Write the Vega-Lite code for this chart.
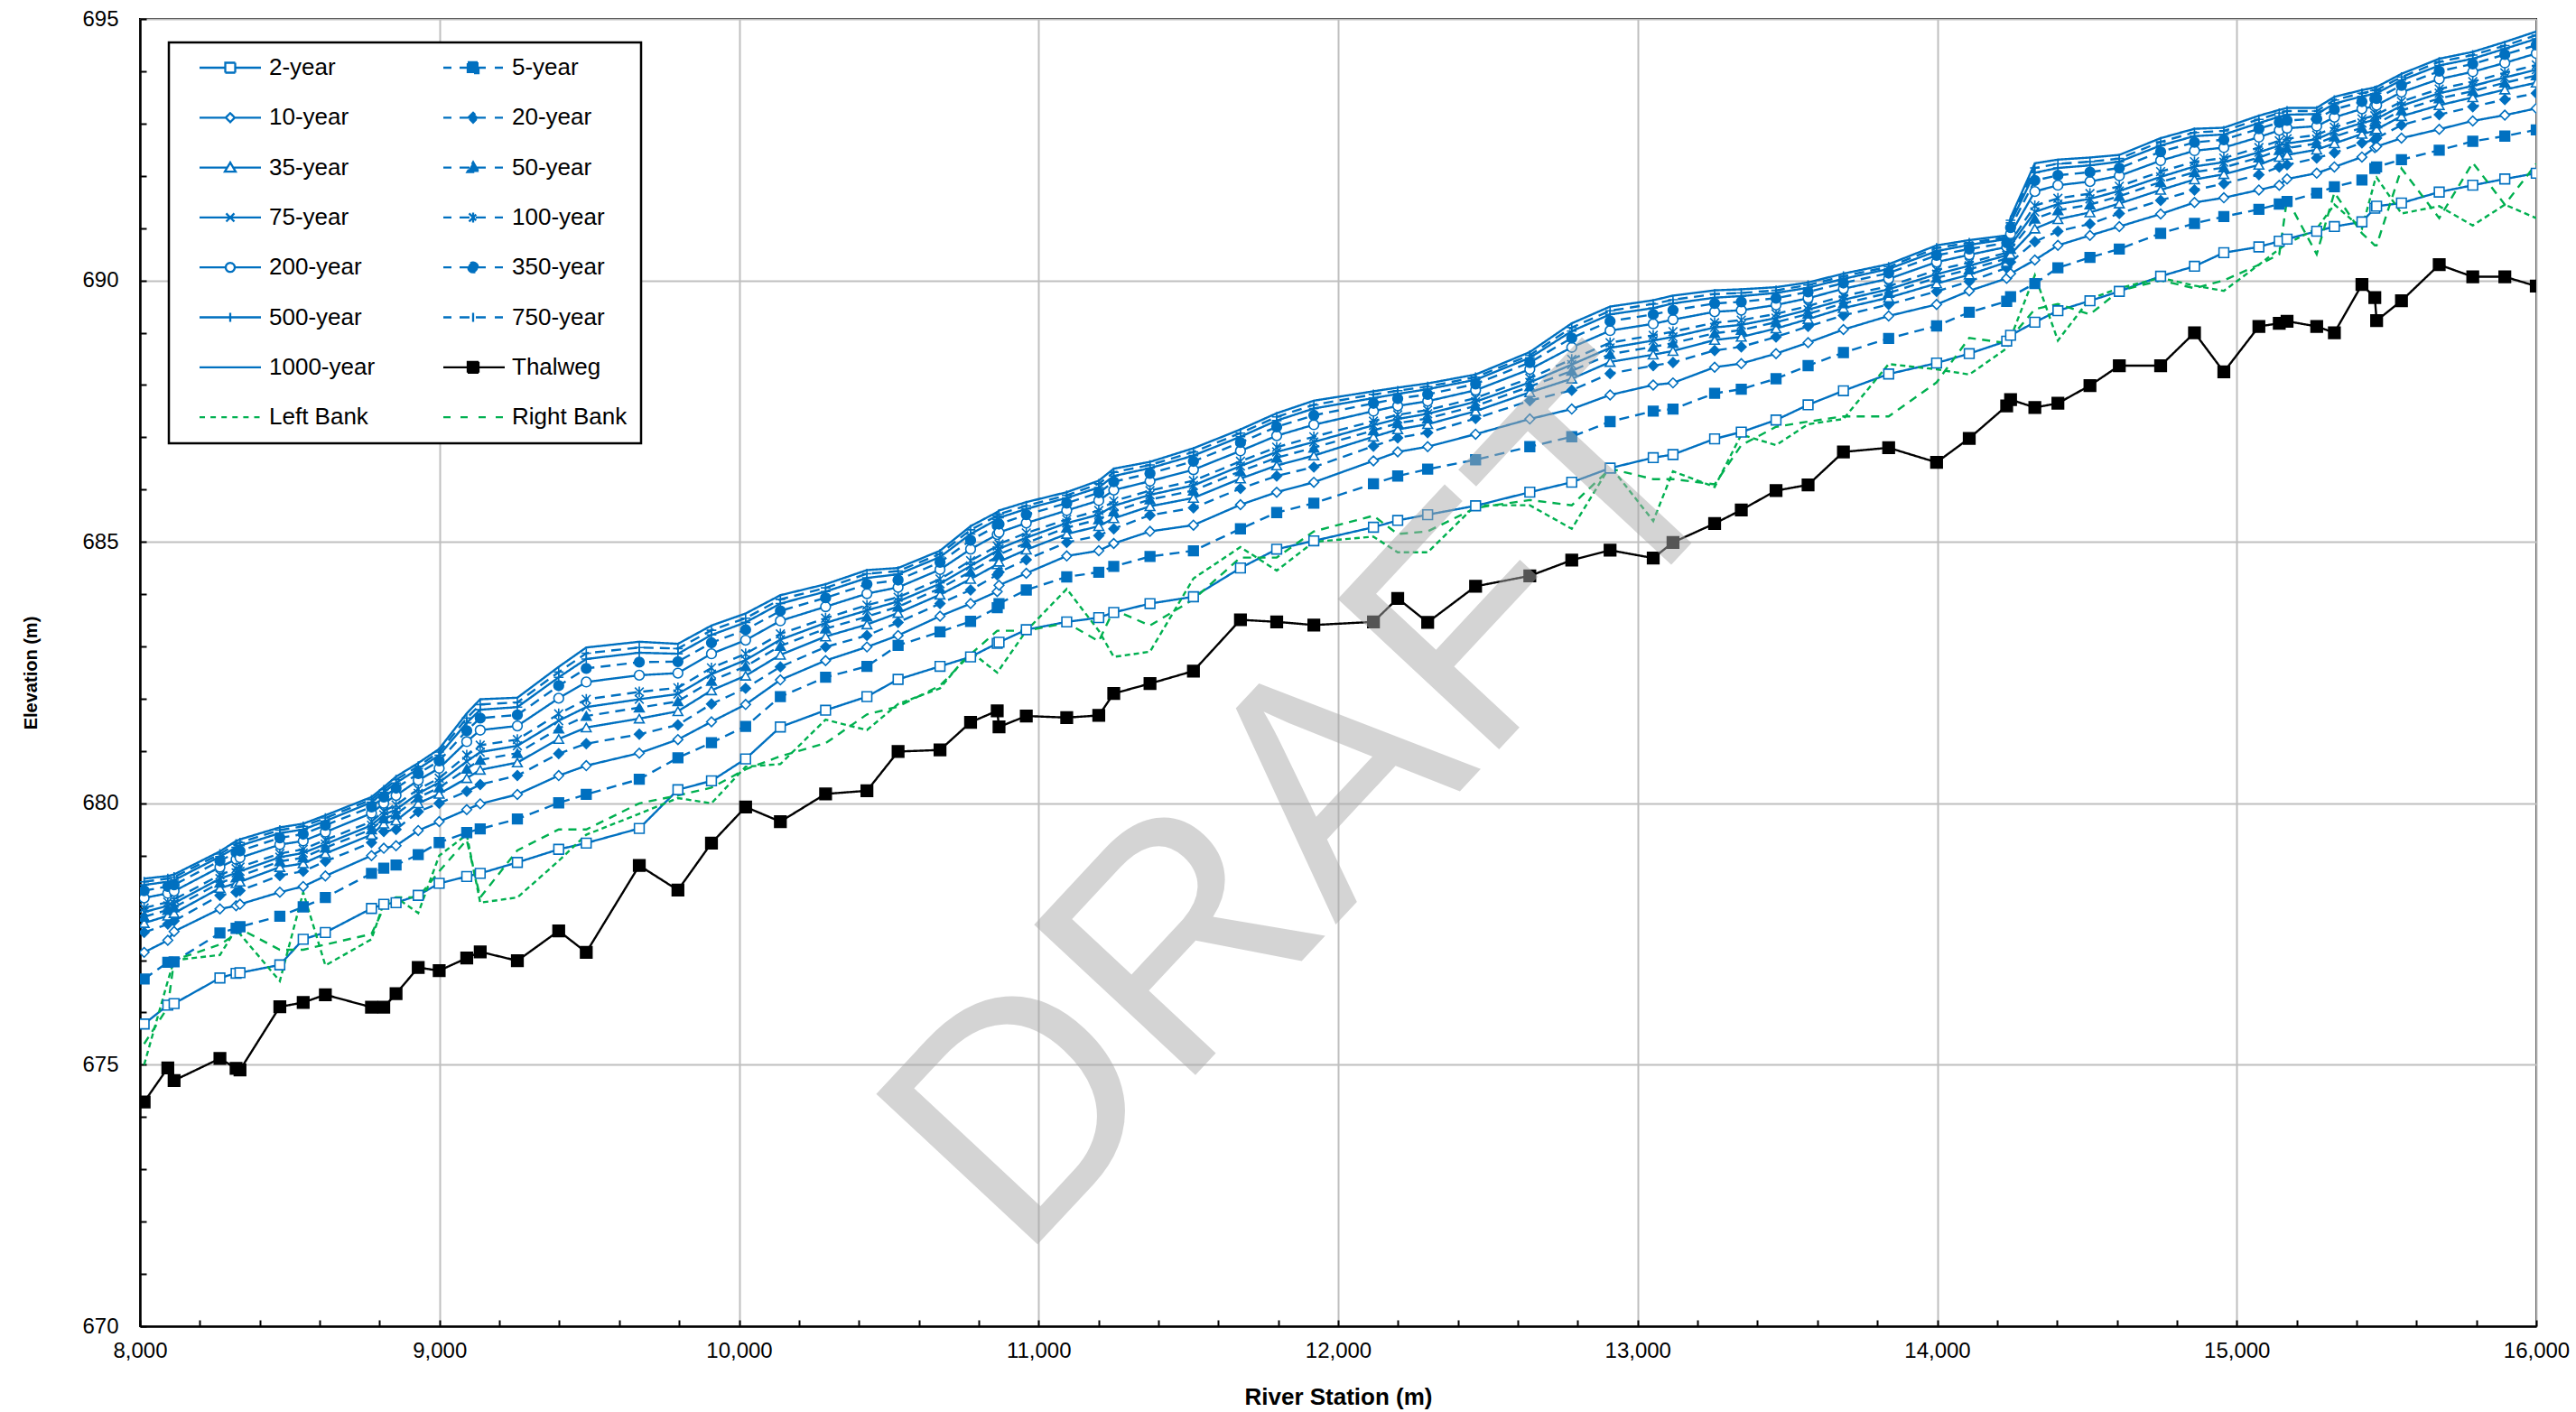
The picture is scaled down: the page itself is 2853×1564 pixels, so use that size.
{
  "$schema": "https://vega.github.io/schema/vega-lite/v6.json",
  "width": 2654,
  "height": 1448,
  "autosize": {"type": "none"},
  "padding": {"left": 155, "top": 21, "right": 44, "bottom": 95},
  "background": "white",
  "config": {
    "view": {"stroke": "black", "strokeWidth": 2},
    "axis": {
      "labelFont": "Liberation Sans", "titleFont": "Liberation Sans",
      "labelColor": "black", "titleColor": "black",
      "labelFontSize": 24, "titleFontSize": 26, "titleFontWeight": "bold",
      "domainColor": "black", "domainWidth": 2.5,
      "tickColor": "black", "tickWidth": 2, "tickSize": -7,
      "gridColor": "#BFBFBF", "gridWidth": 2,
      "labelFlush": false, "labelOverlap": false
    }
  },
  "layer": [
    {
      "data": {"values": [
        {"s":8014,"Thalweg":674.29,"2-year":675.78,"5-year":676.64,"10-year":677.15,"20-year":677.53,"35-year":677.71,"50-year":677.83,"75-year":677.92,"100-year":678.00,"200-year":678.19,"350-year":678.33,"500-year":678.44,"750-year":678.50,"1000-year":678.56,"Left Bank":675.0,"Right Bank":675.4},
        {"s":8093,"Thalweg":674.94,"2-year":676.14,"5-year":676.96,"10-year":677.38,"20-year":677.69,"35-year":677.85,"50-year":677.96,"75-year":678.04,"100-year":678.11,"200-year":678.28,"350-year":678.41,"500-year":678.50,"750-year":678.56,"1000-year":678.61,"Left Bank":676.6,"Right Bank":676.1},
        {"s":8114,"Thalweg":674.70,"2-year":676.17,"5-year":676.97,"10-year":677.55,"20-year":677.75,"35-year":677.90,"50-year":678.01,"75-year":678.09,"100-year":678.16,"200-year":678.32,"350-year":678.44,"500-year":678.53,"750-year":678.59,"1000-year":678.64,"Left Bank":677.0,"Right Bank":677.0},
        {"s":8267,"Thalweg":675.12,"2-year":676.66,"5-year":677.52,"10-year":677.98,"20-year":678.24,"35-year":678.38,"50-year":678.48,"75-year":678.56,"100-year":678.63,"200-year":678.78,"350-year":678.90,"500-year":678.98,"750-year":679.03,"1000-year":679.08,"Left Bank":677.1,"Right Bank":677.3},
        {"s":8321,"Thalweg":674.93,"2-year":676.75,"5-year":677.61,"10-year":678.04,"20-year":678.30,"35-year":678.47,"50-year":678.58,"75-year":678.67,"100-year":678.75,"200-year":678.93,"350-year":679.06,"500-year":679.16,"750-year":679.22,"1000-year":679.28,"Left Bank":677.6,"Right Bank":677.5},
        {"s":8334,"Thalweg":674.90,"2-year":676.76,"5-year":677.64,"10-year":678.07,"20-year":678.33,"35-year":678.50,"50-year":678.61,"75-year":678.70,"100-year":678.78,"200-year":678.96,"350-year":679.09,"500-year":679.19,"750-year":679.25,"1000-year":679.31,"Left Bank":677.5,"Right Bank":677.6},
        {"s":8467,"Thalweg":676.11,"2-year":676.91,"5-year":677.84,"10-year":678.30,"20-year":678.62,"35-year":678.78,"50-year":678.89,"75-year":678.97,"100-year":679.04,"200-year":679.21,"350-year":679.34,"500-year":679.43,"750-year":679.49,"1000-year":679.54,"Left Bank":676.6,"Right Bank":677.2},
        {"s":8545,"Thalweg":676.19,"2-year":677.40,"5-year":678.02,"10-year":678.41,"20-year":678.70,"35-year":678.85,"50-year":678.96,"75-year":679.05,"100-year":679.12,"200-year":679.28,"350-year":679.41,"500-year":679.50,"750-year":679.56,"1000-year":679.61,"Left Bank":678.3,"Right Bank":677.2},
        {"s":8619,"Thalweg":676.34,"2-year":677.53,"5-year":678.20,"10-year":678.61,"20-year":678.89,"35-year":679.04,"50-year":679.15,"75-year":679.22,"100-year":679.30,"200-year":679.45,"350-year":679.58,"500-year":679.66,"750-year":679.72,"1000-year":679.77,"Left Bank":676.9,"Right Bank":677.3},
        {"s":8773,"Thalweg":676.10,"2-year":677.99,"5-year":678.66,"10-year":679.00,"20-year":679.25,"35-year":679.40,"50-year":679.50,"75-year":679.58,"100-year":679.65,"200-year":679.81,"350-year":679.93,"500-year":680.02,"750-year":680.07,"1000-year":680.12,"Left Bank":677.4,"Right Bank":677.5},
        {"s":8814,"Thalweg":676.10,"2-year":678.07,"5-year":678.76,"10-year":679.14,"20-year":679.46,"35-year":679.61,"50-year":679.71,"75-year":679.78,"100-year":679.85,"200-year":680.00,"350-year":680.12,"500-year":680.21,"750-year":680.26,"1000-year":680.31,"Left Bank":678.1,"Right Bank":678.0},
        {"s":8855,"Thalweg":676.36,"2-year":678.10,"5-year":678.82,"10-year":679.19,"20-year":679.50,"35-year":679.67,"50-year":679.79,"75-year":679.88,"100-year":679.97,"200-year":680.15,"350-year":680.29,"500-year":680.39,"750-year":680.45,"1000-year":680.51,"Left Bank":678.2,"Right Bank":678.2},
        {"s":8929,"Thalweg":676.86,"2-year":678.24,"5-year":679.02,"10-year":679.48,"20-year":679.84,"35-year":680.00,"50-year":680.11,"75-year":680.19,"100-year":680.27,"200-year":680.44,"350-year":680.57,"500-year":680.66,"750-year":680.71,"1000-year":680.77,"Left Bank":677.9,"Right Bank":678.2},
        {"s":8999,"Thalweg":676.80,"2-year":678.47,"5-year":679.25,"10-year":679.65,"20-year":680.00,"35-year":680.18,"50-year":680.30,"75-year":680.40,"100-year":680.48,"200-year":680.67,"350-year":680.81,"500-year":680.92,"750-year":680.98,"1000-year":681.04,"Left Bank":679.0,"Right Bank":678.7},
        {"s":9091,"Thalweg":677.04,"2-year":678.60,"5-year":679.44,"10-year":679.88,"20-year":680.23,"35-year":680.48,"50-year":680.66,"75-year":680.80,"100-year":680.92,"200-year":681.18,"350-year":681.39,"500-year":681.54,"750-year":681.63,"1000-year":681.72,"Left Bank":679.4,"Right Bank":679.3},
        {"s":9136,"Thalweg":677.16,"2-year":678.66,"5-year":679.51,"10-year":679.99,"20-year":680.36,"35-year":680.64,"50-year":680.83,"75-year":680.98,"100-year":681.11,"200-year":681.40,"350-year":681.63,"500-year":681.79,"750-year":681.89,"1000-year":681.99,"Left Bank":678.1,"Right Bank":678.2},
        {"s":9260,"Thalweg":676.99,"2-year":678.87,"5-year":679.70,"10-year":680.17,"20-year":680.53,"35-year":680.78,"50-year":680.96,"75-year":681.10,"100-year":681.22,"200-year":681.48,"350-year":681.69,"500-year":681.84,"750-year":681.93,"1000-year":682.02,"Left Bank":678.2,"Right Bank":679.1},
        {"s":9398,"Thalweg":677.56,"2-year":679.12,"5-year":680.01,"10-year":680.53,"20-year":680.95,"35-year":681.23,"50-year":681.43,"75-year":681.58,"100-year":681.71,"200-year":682.01,"350-year":682.25,"500-year":682.41,"750-year":682.51,"1000-year":682.61,"Left Bank":678.9,"Right Bank":679.5},
        {"s":9490,"Thalweg":677.15,"2-year":679.24,"5-year":680.17,"10-year":680.72,"20-year":681.14,"35-year":681.45,"50-year":681.67,"75-year":681.84,"100-year":681.99,"200-year":682.32,"350-year":682.58,"500-year":682.76,"750-year":682.87,"1000-year":682.98,"Left Bank":679.4,"Right Bank":679.5},
        {"s":9667,"Thalweg":678.81,"2-year":679.52,"5-year":680.46,"10-year":680.96,"20-year":681.32,"35-year":681.62,"50-year":681.83,"75-year":681.99,"100-year":682.13,"200-year":682.45,"350-year":682.70,"500-year":682.88,"750-year":682.98,"1000-year":683.09,"Left Bank":679.8,"Right Bank":680.0},
        {"s":9796,"Thalweg":678.34,"2-year":680.26,"5-year":680.87,"10-year":681.22,"20-year":681.50,"35-year":681.76,"50-year":681.95,"75-year":682.09,"100-year":682.21,"200-year":682.49,"350-year":682.71,"500-year":682.86,"750-year":682.96,"1000-year":683.05,"Left Bank":680.1,"Right Bank":680.15},
        {"s":9908,"Thalweg":679.24,"2-year":680.43,"5-year":681.16,"10-year":681.56,"20-year":681.90,"35-year":682.16,"50-year":682.34,"75-year":682.47,"100-year":682.59,"200-year":682.86,"350-year":683.07,"500-year":683.22,"750-year":683.31,"1000-year":683.40,"Left Bank":680.0,"Right Bank":680.3},
        {"s":10022,"Thalweg":679.93,"2-year":680.85,"5-year":681.47,"10-year":681.89,"20-year":682.20,"35-year":682.44,"50-year":682.62,"75-year":682.74,"100-year":682.86,"200-year":683.12,"350-year":683.32,"500-year":683.46,"750-year":683.54,"1000-year":683.63,"Left Bank":680.7,"Right Bank":680.65},
        {"s":10138,"Thalweg":679.65,"2-year":681.46,"5-year":682.04,"10-year":682.36,"20-year":682.61,"35-year":682.84,"50-year":683.01,"75-year":683.13,"100-year":683.24,"200-year":683.49,"350-year":683.68,"500-year":683.82,"750-year":683.90,"1000-year":683.98,"Left Bank":680.75,"Right Bank":680.9},
        {"s":10289,"Thalweg":680.18,"2-year":681.78,"5-year":682.41,"10-year":682.73,"20-year":682.99,"35-year":683.19,"50-year":683.34,"75-year":683.45,"100-year":683.54,"200-year":683.76,"350-year":683.93,"500-year":684.05,"750-year":684.12,"1000-year":684.19,"Left Bank":681.6,"Right Bank":681.15},
        {"s":10427,"Thalweg":680.24,"2-year":682.04,"5-year":682.62,"10-year":682.99,"20-year":683.21,"35-year":683.42,"50-year":683.57,"75-year":683.69,"100-year":683.79,"200-year":684.01,"350-year":684.19,"500-year":684.31,"750-year":684.39,"1000-year":684.46,"Left Bank":681.4,"Right Bank":681.7},
        {"s":10531,"Thalweg":680.99,"2-year":682.37,"5-year":683.02,"10-year":683.21,"20-year":683.46,"35-year":683.64,"50-year":683.76,"75-year":683.86,"100-year":683.94,"200-year":684.13,"350-year":684.27,"500-year":684.38,"750-year":684.44,"1000-year":684.50,"Left Bank":681.9,"Right Bank":681.85},
        {"s":10671,"Thalweg":681.02,"2-year":682.62,"5-year":683.28,"10-year":683.58,"20-year":683.82,"35-year":683.99,"50-year":684.11,"75-year":684.20,"100-year":684.29,"200-year":684.47,"350-year":684.61,"500-year":684.71,"750-year":684.77,"1000-year":684.83,"Left Bank":682.2,"Right Bank":682.25},
        {"s":10773,"Thalweg":681.55,"2-year":682.80,"5-year":683.48,"10-year":683.82,"20-year":684.08,"35-year":684.29,"50-year":684.43,"75-year":684.54,"100-year":684.64,"200-year":684.86,"350-year":685.03,"500-year":685.15,"750-year":685.23,"1000-year":685.30,"Left Bank":682.9,"Right Bank":682.85},
        {"s":10862,"Thalweg":681.77,"2-year":683.06,"5-year":683.74,"10-year":684.05,"20-year":684.37,"35-year":684.57,"50-year":684.72,"75-year":684.83,"100-year":684.92,"200-year":685.14,"350-year":685.31,"500-year":685.43,"750-year":685.50,"1000-year":685.57,"Left Bank":682.5,"Right Bank":683.3},
        {"s":10868,"Thalweg":681.46,"2-year":683.08,"5-year":683.82,"10-year":684.17,"20-year":684.42,"35-year":684.62,"50-year":684.76,"75-year":684.87,"100-year":684.96,"200-year":685.18,"350-year":685.34,"500-year":685.46,"750-year":685.53,"1000-year":685.60,"Left Bank":682.55,"Right Bank":683.3},
        {"s":10959,"Thalweg":681.67,"2-year":683.32,"5-year":684.08,"10-year":684.40,"20-year":684.66,"35-year":684.85,"50-year":684.98,"75-year":685.08,"100-year":685.17,"200-year":685.36,"350-year":685.52,"500-year":685.63,"750-year":685.69,"1000-year":685.76,"Left Bank":683.3,"Right Bank":683.3},
        {"s":11094,"Thalweg":681.64,"2-year":683.47,"5-year":684.33,"10-year":684.73,"20-year":684.99,"35-year":685.15,"50-year":685.27,"75-year":685.36,"100-year":685.43,"200-year":685.60,"350-year":685.74,"500-year":685.84,"750-year":685.89,"1000-year":685.95,"Left Bank":684.1,"Right Bank":683.45},
        {"s":11201,"Thalweg":681.68,"2-year":683.55,"5-year":684.42,"10-year":684.83,"20-year":685.12,"35-year":685.30,"50-year":685.43,"75-year":685.52,"100-year":685.60,"200-year":685.79,"350-year":685.94,"500-year":686.04,"750-year":686.11,"1000-year":686.17,"Left Bank":683.3,"Right Bank":683.1},
        {"s":11251,"Thalweg":682.10,"2-year":683.65,"5-year":684.53,"10-year":684.97,"20-year":685.25,"35-year":685.45,"50-year":685.58,"75-year":685.69,"100-year":685.78,"200-year":685.99,"350-year":686.15,"500-year":686.26,"750-year":686.33,"1000-year":686.40,"Left Bank":682.8,"Right Bank":683.7},
        {"s":11372,"Thalweg":682.29,"2-year":683.82,"5-year":684.72,"10-year":685.20,"20-year":685.51,"35-year":685.68,"50-year":685.81,"75-year":685.90,"100-year":685.98,"200-year":686.16,"350-year":686.31,"500-year":686.41,"750-year":686.47,"1000-year":686.53,"Left Bank":682.9,"Right Bank":683.4},
        {"s":11517,"Thalweg":682.53,"2-year":683.95,"5-year":684.83,"10-year":685.32,"20-year":685.65,"35-year":685.84,"50-year":685.98,"75-year":686.08,"100-year":686.17,"200-year":686.38,"350-year":686.54,"500-year":686.65,"750-year":686.72,"1000-year":686.79,"Left Bank":684.3,"Right Bank":683.9},
        {"s":11674,"Thalweg":683.51,"2-year":684.50,"5-year":685.25,"10-year":685.71,"20-year":686.02,"35-year":686.21,"50-year":686.35,"75-year":686.45,"100-year":686.54,"200-year":686.74,"350-year":686.90,"500-year":687.01,"750-year":687.08,"1000-year":687.15,"Left Bank":684.9,"Right Bank":684.7},
        {"s":11795,"Thalweg":683.47,"2-year":684.86,"5-year":685.56,"10-year":685.95,"20-year":686.26,"35-year":686.46,"50-year":686.61,"75-year":686.72,"100-year":686.81,"200-year":687.03,"350-year":687.20,"500-year":687.32,"750-year":687.39,"1000-year":687.46,"Left Bank":684.45,"Right Bank":684.7},
        {"s":11919,"Thalweg":683.41,"2-year":685.02,"5-year":685.74,"10-year":686.14,"20-year":686.43,"35-year":686.65,"50-year":686.80,"75-year":686.91,"100-year":687.01,"200-year":687.24,"350-year":687.42,"500-year":687.55,"750-year":687.62,"1000-year":687.70,"Left Bank":685.0,"Right Bank":685.2},
        {"s":12118,"Thalweg":683.47,"2-year":685.28,"5-year":686.11,"10-year":686.55,"20-year":686.83,"35-year":687.01,"50-year":687.13,"75-year":687.23,"100-year":687.31,"200-year":687.50,"350-year":687.65,"500-year":687.75,"750-year":687.82,"1000-year":687.88,"Left Bank":685.1,"Right Bank":685.5},
        {"s":12199,"Thalweg":683.92,"2-year":685.41,"5-year":686.26,"10-year":686.72,"20-year":686.99,"35-year":687.15,"50-year":687.27,"75-year":687.35,"100-year":687.43,"200-year":687.60,"350-year":687.74,"500-year":687.83,"750-year":687.89,"1000-year":687.95,"Left Bank":684.8,"Right Bank":685.15},
        {"s":12299,"Thalweg":683.46,"2-year":685.52,"5-year":686.39,"10-year":686.82,"20-year":687.09,"35-year":687.25,"50-year":687.36,"75-year":687.45,"100-year":687.52,"200-year":687.69,"350-year":687.82,"500-year":687.92,"750-year":687.97,"1000-year":688.03,"Left Bank":684.8,"Right Bank":685.2},
        {"s":12459,"Thalweg":684.15,"2-year":685.69,"5-year":686.57,"10-year":687.06,"20-year":687.36,"35-year":687.50,"50-year":687.60,"75-year":687.68,"100-year":687.75,"200-year":687.90,"350-year":688.02,"500-year":688.10,"750-year":688.15,"1000-year":688.20,"Left Bank":685.7,"Right Bank":685.65},
        {"s":12640,"Thalweg":684.35,"2-year":685.95,"5-year":686.82,"10-year":687.35,"20-year":687.70,"35-year":687.86,"50-year":687.97,"75-year":688.05,"100-year":688.13,"200-year":688.30,"350-year":688.43,"500-year":688.52,"750-year":688.57,"1000-year":688.63,"Left Bank":685.7,"Right Bank":685.8},
        {"s":12780,"Thalweg":684.65,"2-year":686.14,"5-year":687.01,"10-year":687.54,"20-year":687.90,"35-year":688.12,"50-year":688.27,"75-year":688.39,"100-year":688.49,"200-year":688.72,"350-year":688.90,"500-year":689.03,"750-year":689.10,"1000-year":689.18,"Left Bank":685.25,"Right Bank":685.7},
        {"s":12908,"Thalweg":684.84,"2-year":686.41,"5-year":687.30,"10-year":687.81,"20-year":688.22,"35-year":688.44,"50-year":688.59,"75-year":688.71,"100-year":688.81,"200-year":689.04,"350-year":689.22,"500-year":689.35,"750-year":689.42,"1000-year":689.50,"Left Bank":686.45,"Right Bank":686.4},
        {"s":13052,"Thalweg":684.69,"2-year":686.61,"5-year":687.50,"10-year":688.00,"20-year":688.37,"35-year":688.58,"50-year":688.73,"75-year":688.85,"100-year":688.95,"200-year":689.17,"350-year":689.35,"500-year":689.47,"750-year":689.55,"1000-year":689.62,"Left Bank":685.4,"Right Bank":686.2},
        {"s":13118,"Thalweg":684.99,"2-year":686.67,"5-year":687.54,"10-year":688.04,"20-year":688.43,"35-year":688.65,"50-year":688.80,"75-year":688.92,"100-year":689.02,"200-year":689.25,"350-year":689.43,"500-year":689.56,"750-year":689.63,"1000-year":689.71,"Left Bank":686.35,"Right Bank":686.2},
        {"s":13257,"Thalweg":685.35,"2-year":686.97,"5-year":687.84,"10-year":688.34,"20-year":688.66,"35-year":688.86,"50-year":688.99,"75-year":689.10,"100-year":689.19,"200-year":689.40,"350-year":689.56,"500-year":689.67,"750-year":689.74,"1000-year":689.81,"Left Bank":686.05,"Right Bank":686.1},
        {"s":13346,"Thalweg":685.61,"2-year":687.10,"5-year":687.92,"10-year":688.41,"20-year":688.73,"35-year":688.92,"50-year":689.05,"75-year":689.15,"100-year":689.24,"200-year":689.43,"350-year":689.59,"500-year":689.70,"750-year":689.76,"1000-year":689.83,"Left Bank":687.05,"Right Bank":686.85},
        {"s":13462,"Thalweg":685.98,"2-year":687.33,"5-year":688.12,"10-year":688.60,"20-year":688.92,"35-year":689.08,"50-year":689.20,"75-year":689.28,"100-year":689.36,"200-year":689.53,"350-year":689.66,"500-year":689.76,"750-year":689.81,"1000-year":689.87,"Left Bank":686.85,"Right Bank":687.2},
        {"s":13569,"Thalweg":686.09,"2-year":687.62,"5-year":688.37,"10-year":688.81,"20-year":689.12,"35-year":689.26,"50-year":689.36,"75-year":689.44,"100-year":689.51,"200-year":689.66,"350-year":689.78,"500-year":689.86,"750-year":689.91,"1000-year":689.96,"Left Bank":687.25,"Right Bank":687.3},
        {"s":13687,"Thalweg":686.72,"2-year":687.89,"5-year":688.62,"10-year":689.06,"20-year":689.33,"35-year":689.47,"50-year":689.56,"75-year":689.63,"100-year":689.70,"200-year":689.84,"350-year":689.95,"500-year":690.03,"750-year":690.08,"1000-year":690.13,"Left Bank":687.35,"Right Bank":687.4},
        {"s":13838,"Thalweg":686.80,"2-year":688.21,"5-year":688.89,"10-year":689.32,"20-year":689.54,"35-year":689.67,"50-year":689.76,"75-year":689.83,"100-year":689.89,"200-year":690.03,"350-year":690.14,"500-year":690.22,"750-year":690.26,"1000-year":690.31,"Left Bank":688.4,"Right Bank":687.4},
        {"s":13998,"Thalweg":686.52,"2-year":688.42,"5-year":689.13,"10-year":689.54,"20-year":689.79,"35-year":689.94,"50-year":690.05,"75-year":690.12,"100-year":690.20,"200-year":690.35,"350-year":690.48,"500-year":690.56,"750-year":690.62,"1000-year":690.67,"Left Bank":688.3,"Right Bank":688.05},
        {"s":14107,"Thalweg":686.98,"2-year":688.60,"5-year":689.39,"10-year":689.80,"20-year":689.98,"35-year":690.11,"50-year":690.21,"75-year":690.28,"100-year":690.34,"200-year":690.49,"350-year":690.60,"500-year":690.68,"750-year":690.72,"1000-year":690.77,"Left Bank":688.2,"Right Bank":688.9},
        {"s":14232,"Thalweg":687.60,"2-year":688.84,"5-year":689.60,"10-year":690.04,"20-year":690.24,"35-year":690.35,"50-year":690.42,"75-year":690.48,"100-year":690.53,"200-year":690.64,"350-year":690.72,"500-year":690.79,"750-year":690.82,"1000-year":690.86,"Left Bank":688.7,"Right Bank":688.8},
        {"s":14245,"Thalweg":687.72,"2-year":688.95,"5-year":689.69,"10-year":690.13,"20-year":690.35,"35-year":690.50,"50-year":690.60,"75-year":690.67,"100-year":690.74,"200-year":690.89,"350-year":691.01,"500-year":691.10,"750-year":691.15,"1000-year":691.20,"Left Bank":688.9,"Right Bank":688.9},
        {"s":14326,"Thalweg":687.57,"2-year":689.20,"5-year":689.94,"10-year":690.39,"20-year":690.74,"35-year":690.99,"50-year":691.18,"75-year":691.31,"100-year":691.43,"200-year":691.70,"350-year":691.91,"500-year":692.06,"750-year":692.15,"1000-year":692.24,"Left Bank":690.1,"Right Bank":689.45},
        {"s":14403,"Thalweg":687.65,"2-year":689.42,"5-year":690.24,"10-year":690.67,"20-year":690.94,"35-year":691.17,"50-year":691.34,"75-year":691.46,"100-year":691.57,"200-year":691.82,"350-year":692.01,"500-year":692.15,"750-year":692.23,"1000-year":692.31,"Left Bank":688.85,"Right Bank":689.55},
        {"s":14510,"Thalweg":687.99,"2-year":689.61,"5-year":690.44,"10-year":690.86,"20-year":691.08,"35-year":691.30,"50-year":691.45,"75-year":691.56,"100-year":691.66,"200-year":691.89,"350-year":692.07,"500-year":692.20,"750-year":692.27,"1000-year":692.35,"Left Bank":689.65,"Right Bank":689.35},
        {"s":14608,"Thalweg":688.37,"2-year":689.79,"5-year":690.60,"10-year":691.03,"20-year":691.28,"35-year":691.47,"50-year":691.61,"75-year":691.71,"100-year":691.80,"200-year":692.00,"350-year":692.15,"500-year":692.27,"750-year":692.33,"1000-year":692.40,"Left Bank":689.85,"Right Bank":689.8},
        {"s":14746,"Thalweg":688.37,"2-year":690.08,"5-year":690.90,"10-year":691.27,"20-year":691.53,"35-year":691.73,"50-year":691.88,"75-year":691.98,"100-year":692.08,"200-year":692.29,"350-year":692.46,"500-year":692.58,"750-year":692.65,"1000-year":692.72,"Left Bank":690.05,"Right Bank":690.0},
        {"s":14859,"Thalweg":689.00,"2-year":690.27,"5-year":691.09,"10-year":691.49,"20-year":691.73,"35-year":691.93,"50-year":692.07,"75-year":692.18,"100-year":692.27,"200-year":692.48,"350-year":692.64,"500-year":692.76,"750-year":692.83,"1000-year":692.90,"Left Bank":689.9,"Right Bank":689.85},
        {"s":14957,"Thalweg":688.25,"2-year":690.53,"5-year":691.22,"10-year":691.58,"20-year":691.85,"35-year":692.03,"50-year":692.16,"75-year":692.26,"100-year":692.34,"200-year":692.54,"350-year":692.69,"500-year":692.79,"750-year":692.86,"1000-year":692.92,"Left Bank":689.8,"Right Bank":690.0},
        {"s":15074,"Thalweg":689.12,"2-year":690.64,"5-year":691.36,"10-year":691.73,"20-year":692.02,"35-year":692.21,"50-year":692.35,"75-year":692.45,"100-year":692.54,"200-year":692.74,"350-year":692.90,"500-year":693.01,"750-year":693.08,"1000-year":693.15,"Left Bank":690.3,"Right Bank":690.3},
        {"s":15142,"Thalweg":689.18,"2-year":690.75,"5-year":691.46,"10-year":691.82,"20-year":692.17,"35-year":692.36,"50-year":692.49,"75-year":692.58,"100-year":692.67,"200-year":692.87,"350-year":693.02,"500-year":693.13,"750-year":693.20,"1000-year":693.26,"Left Bank":690.6,"Right Bank":690.5},
        {"s":15168,"Thalweg":689.22,"2-year":690.79,"5-year":691.51,"10-year":691.94,"20-year":692.21,"35-year":692.40,"50-year":692.53,"75-year":692.62,"100-year":692.71,"200-year":692.91,"350-year":693.06,"500-year":693.17,"750-year":693.24,"1000-year":693.30,"Left Bank":690.7,"Right Bank":691.56},
        {"s":15267,"Thalweg":689.12,"2-year":690.94,"5-year":691.67,"10-year":692.05,"20-year":692.34,"35-year":692.50,"50-year":692.62,"75-year":692.70,"100-year":692.78,"200-year":692.95,"350-year":693.09,"500-year":693.18,"750-year":693.24,"1000-year":693.30,"Left Bank":690.99,"Right Bank":690.5},
        {"s":15326,"Thalweg":689.00,"2-year":691.03,"5-year":691.79,"10-year":692.17,"20-year":692.44,"35-year":692.62,"50-year":692.75,"75-year":692.85,"100-year":692.93,"200-year":693.12,"350-year":693.27,"500-year":693.38,"750-year":693.45,"1000-year":693.51,"Left Bank":691.45,"Right Bank":691.68},
        {"s":15418,"Thalweg":689.92,"2-year":691.12,"5-year":691.92,"10-year":692.36,"20-year":692.63,"35-year":692.80,"50-year":692.92,"75-year":693.01,"100-year":693.09,"200-year":693.28,"350-year":693.42,"500-year":693.52,"750-year":693.58,"1000-year":693.64,"Left Bank":690.99,"Right Bank":690.9},
        {"s":15461,"Thalweg":689.67,"2-year":691.38,"5-year":692.14,"10-year":692.54,"20-year":692.69,"35-year":692.86,"50-year":692.98,"75-year":693.07,"100-year":693.15,"200-year":693.33,"350-year":693.47,"500-year":693.57,"750-year":693.63,"1000-year":693.69,"Left Bank":691.9,"Right Bank":690.67},
        {"s":15467,"Thalweg":689.23,"2-year":691.42,"5-year":692.17,"10-year":692.56,"20-year":692.72,"35-year":692.89,"50-year":693.00,"75-year":693.09,"100-year":693.17,"200-year":693.35,"350-year":693.48,"500-year":693.58,"750-year":693.64,"1000-year":693.70,"Left Bank":691.97,"Right Bank":690.67},
        {"s":15550,"Thalweg":689.61,"2-year":691.48,"5-year":692.31,"10-year":692.72,"20-year":692.97,"35-year":693.14,"50-year":693.25,"75-year":693.34,"100-year":693.42,"200-year":693.60,"350-year":693.73,"500-year":693.83,"750-year":693.89,"1000-year":693.95,"Left Bank":691.28,"Right Bank":692.14},
        {"s":15676,"Thalweg":690.30,"2-year":691.69,"5-year":692.49,"10-year":692.89,"20-year":693.17,"35-year":693.35,"50-year":693.48,"75-year":693.58,"100-year":693.66,"200-year":693.85,"350-year":694.00,"500-year":694.11,"750-year":694.18,"1000-year":694.24,"Left Bank":691.42,"Right Bank":691.19},
        {"s":15788,"Thalweg":690.07,"2-year":691.82,"5-year":692.66,"10-year":693.05,"20-year":693.32,"35-year":693.50,"50-year":693.62,"75-year":693.72,"100-year":693.80,"200-year":693.99,"350-year":694.14,"500-year":694.24,"750-year":694.31,"1000-year":694.37,"Left Bank":691.05,"Right Bank":692.25},
        {"s":15895,"Thalweg":690.07,"2-year":691.94,"5-year":692.76,"10-year":693.16,"20-year":693.46,"35-year":693.65,"50-year":693.78,"75-year":693.88,"100-year":693.97,"200-year":694.16,"350-year":694.32,"500-year":694.43,"750-year":694.49,"1000-year":694.56,"Left Bank":691.45,"Right Bank":691.45},
        {"s":16000,"Thalweg":689.89,"2-year":692.05,"5-year":692.88,"10-year":693.29,"20-year":693.58,"35-year":693.78,"50-year":693.92,"75-year":694.03,"100-year":694.12,"200-year":694.34,"350-year":694.50,"500-year":694.62,"750-year":694.69,"1000-year":694.76,"Left Bank":691.19,"Right Bank":692.23}
      ]},
      "transform": [
        {"fold": ["2-year","5-year","10-year","20-year","35-year","50-year","75-year","100-year","200-year","350-year","500-year","750-year","1000-year","Thalweg","Left Bank","Right Bank"], "as": ["series", "elev"]}
      ],
      "layer": [
        {
          "mark": {"type": "line", "strokeWidth": 2.4, "clip": true},
          "encoding": {
            "x": {
              "field": "s", "type": "quantitative",
              "scale": {"domain": [8000, 16000], "nice": false, "zero": false},
              "axis": {
                "title": "River Station (m)",
                "values": [8000,8200,8400,8600,8800,9000,9200,9400,9600,9800,10000,10200,10400,10600,10800,11000,11200,11400,11600,11800,12000,12200,12400,12600,12800,13000,13200,13400,13600,13800,14000,14200,14400,14600,14800,15000,15200,15400,15600,15800,16000],
                "format": ",d",
                "labelExpr": "datum.value % 1000 === 0 ? datum.label : ''",
                "grid": true,
                "gridOpacity": {"condition": {"test": "datum.value % 1000 === 0", "value": 1}, "value": 0},
                "labelPadding": 22,
                "titlePadding": 26
              }
            },
            "y": {
              "field": "elev", "type": "quantitative",
              "scale": {"domain": [670, 695], "nice": false, "zero": false},
              "axis": {
                "title": "Elevation (m)",
                "titleFontSize": 20,
                "values": [670,671,672,673,674,675,676,677,678,679,680,681,682,683,684,685,686,687,688,689,690,691,692,693,694,695],
                "format": "d",
                "labelExpr": "datum.value % 5 === 0 ? datum.label : ''",
                "grid": true,
                "gridOpacity": {"condition": {"test": "datum.value % 5 === 0", "value": 1}, "value": 0},
                "labelPadding": 31,
                "titlePadding": 46
              }
            },
            "stroke": {
              "field": "series", "type": "nominal",
              "scale": {
                "domain": ["2-year","5-year","10-year","20-year","35-year","50-year","75-year","100-year","200-year","350-year","500-year","750-year","1000-year","Thalweg","Left Bank","Right Bank"],
                "range": ["#0070C0","#0070C0","#0070C0","#0070C0","#0070C0","#0070C0","#0070C0","#0070C0","#0070C0","#0070C0","#0070C0","#0070C0","#0070C0","black","#00B050","#00B050"]
              },
              "legend": {
                "title": null,
                "orient": "none",
                "legendX": 32,
                "legendY": 26,
                "direction": "horizontal",
                "columns": 2,
                "symbolSize": 400,
                "symbolStrokeWidth": 2.3,
                "symbolOffset": 40,
                "labelOffset": 30,
                "labelFont": "Liberation Sans",
                "labelFontSize": 26,
                "labelColor": "black",
                "labelLimit": 400,
                "rowPadding": 29.3,
                "columnPadding": 55,
                "padding": 15,
                "strokeColor": "black",
                "fillColor": "white",
                "encode": {
                  "legend": {
                    "update": {
                      "strokeWidth": {"value": 2.5}
                    }
                  },
                  "symbols": {
                    "update": {
                      "shape": {"signal": "['M-3.4,0H-0.55M0.55,0H3.4M-0.55,-0.55H0.55V0.55H-0.55Z','M-3.3,0H-2.4M-1.5,0H1.5M2.4,0H3.3M-0.6,-0.6H0.6V0.6H-0.6Z','M-3.4,0H-0.5M0.5,0H3.4M-0.5,0L0,-0.5L0.5,0L0,0.5Z','M-3.3,0H-2.4M-1.5,0H1.5M2.4,0H3.3M-0.55,0L0,-0.55L0.55,0L0,0.55Z','M-3.4,0H-0.3M0.3,0H3.4M0,-0.55L0.6,0.45L-0.6,0.45Z','M-3.3,0H-2.4M-1.5,0H1.5M2.4,0H3.3M0,-0.6L0.65,0.5L-0.65,0.5Z','M-3.4,0H3.4M-0.45,-0.45L0.45,0.45M-0.45,0.45L0.45,-0.45','M-3.3,0H-2.4M-1.5,0H1.5M2.4,0H3.3M-0.45,-0.45L0.45,0.45M-0.45,0.45L0.45,-0.45M0,-0.55V0.55','M-3.4,0H-0.5M0.5,0H3.4M-0.5,0A0.5,0.5,0,1,0,0.5,0A0.5,0.5,0,1,0,-0.5,0Z','M-3.3,0H-2.4M-1.5,0H1.5M2.4,0H3.3M-0.55,0A0.55,0.55,0,1,0,0.55,0A0.55,0.55,0,1,0,-0.55,0Z','M-3.4,0H3.4M0,-0.5V0.5','M-3.3,0H-2.4M-1.5,0H1.5M2.4,0H3.3M0,-0.5V0.5','M-3.4,0H3.4','M-3.3,0H3.5M-0.6,-0.6H0.6V0.6H-0.6Z','M-3.4,0H-2.65M-2.19,0H-1.44M-0.98,0H-0.23M0.23,0H0.98M1.44,0H2.19M2.65,0H3.4','M-3.3,0H-2.5M-1.4,0H-0.6M0.6,0H1.4M2.5,0H3.3'][indexof(['2-year','5-year','10-year','20-year','35-year','50-year','75-year','100-year','200-year','350-year','500-year','750-year','1000-year','Thalweg','Left Bank','Right Bank'], datum.value)]"},
                      "fill": {"signal": "['white','#0070C0','white','#0070C0','white','#0070C0','transparent','transparent','white','#0070C0','transparent','transparent','transparent','black','transparent','transparent'][indexof(['2-year','5-year','10-year','20-year','35-year','50-year','75-year','100-year','200-year','350-year','500-year','750-year','1000-year','Thalweg','Left Bank','Right Bank'], datum.value)]"},
                      "strokeDash": {"value": []}
                    }
                  }
                }
              }
            },
            "strokeDash": {
              "field": "series", "type": "nominal",
              "scale": {
                "domain": ["2-year","5-year","10-year","20-year","35-year","50-year","75-year","100-year","200-year","350-year","500-year","750-year","1000-year","Thalweg","Left Bank","Right Bank"],
                "range": [[1,0],[11,7],[1,0],[11,7],[1,0],[11,7],[1,0],[11,7],[1,0],[11,7],[1,0],[11,7],[1,0],[1,0],[6,4],[9,7]]
              },
              "legend": null
            }
          }
        },
        {
          "transform": [{"filter": {"field": "series", "oneOf": ["2-year","5-year","10-year","20-year","35-year","50-year","75-year","100-year","200-year","350-year","500-year","750-year","Thalweg"]}}],
          "mark": {"type": "point", "filled": true, "opacity": 1, "strokeWidth": 1.6, "clip": true},
          "encoding": {
            "x": {"field": "s", "type": "quantitative", "title": "River Station (m)"},
            "y": {"field": "elev", "type": "quantitative", "title": "Elevation (m)"},
            "shape": {
              "field": "series", "type": "nominal",
              "scale": {
                "domain": ["2-year","5-year","10-year","20-year","35-year","50-year","75-year","100-year","200-year","350-year","500-year","750-year","Thalweg"],
                "range": ["square","square","diamond","diamond","triangle-up","triangle-up","M-0.9,-0.9L0.9,0.9M-0.9,0.9L0.9,-0.9","M-0.9,-0.9L0.9,0.9M-0.9,0.9L0.9,-0.9M0,-1.1V1.1","circle","circle","M-1,0H1M0,-1V1","M-1,0H1M0,-1V1","square"]
              },
              "legend": null
            },
            "fill": {
              "field": "series", "type": "nominal",
              "scale": {
                "domain": ["2-year","5-year","10-year","20-year","35-year","50-year","75-year","100-year","200-year","350-year","500-year","750-year","Thalweg"],
                "range": ["white","#0070C0","white","#0070C0","white","#0070C0","transparent","transparent","white","#0070C0","transparent","transparent","black"]
              },
              "legend": null
            },
            "stroke": {"condition": {"test": "datum.series === 'Thalweg'", "value": "black"}, "value": "#0070C0"},
            "size": {"condition": {"test": "datum.series === 'Thalweg'", "value": 160}, "value": 115}
          }
        }
      ]
    },
    {
      "data": {"values": [{}]},
      "mark": {"type": "text", "text": "DRAFT", "font": "Liberation Sans", "fontSize": 355, "angle": 313, "align": "center", "baseline": "middle", "color": "#AAAAAA", "opacity": 0.5},
      "encoding": {
        "x": {"datum": 11917, "type": "quantitative", "title": "River Station (m)"},
        "y": {"datum": 679.93, "type": "quantitative", "title": "Elevation (m)"}
      }
    }
  ]
}
